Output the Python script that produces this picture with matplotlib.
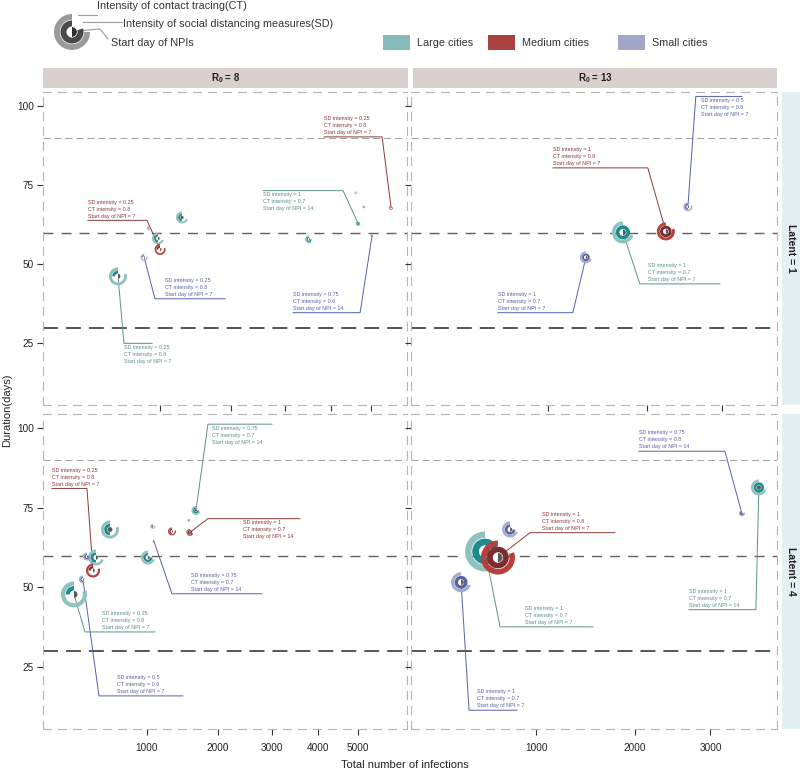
import numpy as np
import matplotlib.pyplot as plt
from matplotlib.patches import Wedge, Circle, Rectangle
from matplotlib.transforms import Affine2D, ScaledTranslation

plt.rcParams['font.family'] = ['Liberation Sans', 'DejaVu Sans']
plt.rcParams['mathtext.fontset'] = 'custom'
plt.rcParams['mathtext.rm'] = 'Liberation Sans'
plt.rcParams['mathtext.bf'] = 'Liberation Sans:bold'

# ---------------- data (one block per facet) ----------------
# R0 = 8, latent = 1
tl_city = ['Large', 'Large', 'Medium', 'Small', 'Large', 'Large', 'Large', 'Small', 'Small', 'Medium', 'Small', 'Small']
tl_inf = [568, 976, 1000, 822, 1273, 3505, 4662, 4611, 4815, 5534, 5022, 875]
tl_dur = [46.2, 58.2, 54.7, 52.2, 64.8, 57.9, 62.9, 72.6, 68.2, 67.9, 59.1, 61.4]
tl_sd = [0.25, 0.5, 0.25, 0.25, 0.5, 0.75, 1, 0.5, 0.75, 0.25, 0.75, 0.5]
tl_ct = [0.8, 0.7, 0.8, 0.8, 0.7, 0.6, 0.7, 0.8, 0.6, 0.8, 0.6, 0.7]
tl_start = [7, 7, 7, 7, 14, 7, 14, 7, 14, 7, 14, 7]
tl_weight = [9, 6, 5.5, 3.5, 6, 4, 2.5, 1.5, 1.5, 2, 1.5, 2]

# R0 = 13, latent = 1
tr_city = ['Large', 'Medium', 'Small', 'Small']
tr_inf = [1728, 2234, 2519, 1344]
tr_dur = [60.1, 60.4, 68.2, 52.2]
tr_sd = [1, 1, 0.5, 1]
tr_ct = [0.7, 0.8, 0.8, 0.7]
tr_start = [7, 7, 7, 7]
tr_weight = [11, 9, 4.5, 6]

# R0 = 8, latent = 4
bl_city = ['Large', 'Large', 'Large', 'Large', 'Large', 'Medium', 'Medium', 'Medium',
           'Small', 'Small', 'Small', 'Small', 'Small']
bl_inf = [328, 492, 614, 1012, 1657, 468, 1315, 1568, 391, 421, 1072, 1084, 1553]
bl_dur = [47.8, 59.4, 68.2, 59.4, 74.2, 55.3, 67.6, 67.3, 52.5, 59.7, 69.2, 64.5, 71.1]
bl_sd = [0.25, 0.5, 0.5, 0.75, 0.75, 0.25, 0.5, 1, 0.5, 0.75, 0.5, 0.75, 1]
bl_ct = [0.8, 0.7, 0.8, 0.7, 0.7, 0.8, 0.8, 0.7, 0.6, 0.7, 0.8, 0.7, 0.6]
bl_start = [7, 7, 14, 7, 14, 7, 7, 14, 7, 7, 14, 14, 14]
bl_weight = [13, 8, 9, 7, 4.5, 7, 4, 3.5, 4, 4, 2.5, 1.5, 1.5]

# R0 = 13, latent = 4
br_city = ['Large', 'Large', 'Medium', 'Small', 'Small', 'Small']
br_inf = [618, 3745, 706, 470, 794, 3474]
br_dur = [61.3, 81.4, 59.4, 51.6, 68.2, 73.3]
br_sd = [1, 1, 1, 1, 0.75, 0.75]
br_ct = [0.7, 0.7, 0.8, 0.7, 0.7, 0.8]
br_start = [7, 14, 7, 7, 7, 14]
br_weight = [20, 8, 17, 10, 8, 3]

r0_labels = ['8', '13']
latent_labels = ['1', '4']

# label placement (point index, line y, elbow x, end x, text x, text above line)
tl_labels = [(0, 25.0, 622, 908, 622, False), (2, 63.9, 853, 334, 334, True),
             (3, 39.1, 941, 1905, 1059, True), (6, 73.3, 4290, 2569, 2569, False),
             (9, 90.3, 5288, 3842, 3842, True), (10, 34.7, 4713, 3163, 3163, True)]
tr_labels = [(0, 43.8, 1920, 2963, 2014, True), (1, 80.5, 2014, 1042, 1042, True),
             (2, 103.1, 2626, 3289, 2695, False), (3, 34.7, 1220, 624, 624, True)]
bl_labels = [(0, 36.0, 406, 1096, 543, True), (5, 81.1, 421, 197, 197, True),
             (8, 15.9, 517, 1467, 680, True), (11, 48.0, 1315, 2801, 1582, True),
             (7, 71.6, 1843, 3595, 2441, False), (4, 101.3, 1843, 3001, 1907, False)]
br_labels = [(3, 11.4, 517, 847, 566, True), (0, 37.6, 721, 1535, 910, True),
             (2, 67.2, 950, 1772, 1051, True), (5, 92.8, 3213, 2050, 2050, True),
             (1, 43.0, 3696, 2695, 2695, True)]

light = {'Large': '#8fc1be', 'Medium': '#b8403b', 'Small': '#a4abcc'}
dark = {'Large': '#1d8a8b', 'Medium': '#7e2d2e', 'Small': '#56639f'}
txtcol = {'Large': '#5b918c', 'Medium': '#8a3b36', 'Small': '#5563a6'}
swatch = {'Large': '#88bab9', 'Medium': '#a8423f', 'Small': '#a1a8c7'}

W, H = 800, 773
fig = plt.figure(figsize=(W / 100, H / 100), dpi=100)


def glyph(ax, x, y, r, ct, sd, start, c_light, c_dark, c_pie='#5a5a5a'):
    tr = Affine2D().scale(fig.dpi / 100) + ScaledTranslation(x, y, ax.transData)
    kw = dict(transform=tr, ec='none', zorder=3, clip_on=False)
    ax.add_patch(Wedge((0, 0), r, 90, 90 + 360 * ct, width=0.32 * r, fc=c_light, **kw))
    ax.add_patch(Wedge((0, 0), 0.64 * r, 90, 90 + 360 * sd, width=0.34 * r, fc=c_dark, **kw))
    ax.add_patch(Circle((0, 0), 0.3 * r, fc='white', **kw))
    ax.add_patch(Wedge((0, 0), 0.27 * r, 90 - 360 * start / 14, 90, fc=c_pie, **kw))


def fbox(x0, y0, x1, y1):
    return [x0 / W, 1 - y1 / H, (x1 - x0) / W, (y1 - y0) / H]


col_px = [(43, 407), (411, 777)]
row_px = [(92, 405), (414, 729)]

facets = [
    (0, 0, tl_city, tl_inf, tl_dur, tl_sd, tl_ct, tl_start, tl_weight, tl_labels, (99, 5980)),
    (0, 1, tr_city, tr_inf, tr_dur, tr_sd, tr_ct, tr_start, tr_weight, tr_labels, (181, 3846)),
    (1, 0, bl_city, bl_inf, bl_dur, bl_sd, bl_ct, bl_start, bl_weight, bl_labels, (153, 6370)),
    (1, 1, br_city, br_inf, br_dur, br_sd, br_ct, br_start, br_weight, br_labels, (226, 4045)),
]

for row, col, city, inf, dur, sd, ct, start, wt, labels, xlim in facets:
    (x0, x1), (y0, y1) = col_px[col], row_px[row]
    ax = fig.add_axes(fbox(x0, y0, x1, y1))
    ax.set_xscale('function', functions=(lambda v: np.sqrt(np.clip(v, 0, None)), lambda v: v ** 2))
    ax.set_xlim(*xlim)
    ax.set_ylim(5.5, 104.5)
    ax.set_autoscale_on(False)

    ax.axhline(90, color='#a0a0a0', lw=0.7, dashes=(7.2, 4.1), zorder=1)
    ax.axhline(60, color='#606060', lw=1.0, dashes=(7.2, 5.8), zorder=1)
    ax.axhline(30, color='#555555', lw=1.4, dashes=(7.7, 4.1), zorder=1)

    for idx, ly, ex, endx, tx, above in labels:
        c = txtcol[city[idx]]
        ax.plot([inf[idx], ex, endx], [dur[idx], ly, ly], color=c, lw=0.7, zorder=2,
                clip_on=False)
        txt = f"SD intenstiy = {sd[idx]:g}\nCT intensity = {ct[idx]:g}\nStart day of NPI = {start[idx]}"
        ax.annotate(txt, (tx, ly), xytext=(0, 1.3 if above else -1.3), textcoords='offset points',
                    va='bottom' if above else 'top', ha='left', fontsize=3.9, color=c,
                    linespacing=1.5, zorder=4, annotation_clip=False)

    for i in range(len(inf)):
        glyph(ax, inf[i], dur[i], wt[i], ct[i], sd[i], start[i], light[city[i]], dark[city[i]])

    ax.set_xticks([1000, 2000, 3000, 4000, 5000] if col == 0 else [1000, 2000, 3000])
    ax.xaxis.set_minor_locator(plt.NullLocator())
    ax.set_yticks([25, 50, 75, 100])
    ax.tick_params(direction='out', length=4.5, width=0.8, color='#333333', labelsize=7.2,
                   labelcolor='#222222')
    ax.tick_params(axis='x', pad=5.5)
    ax.tick_params(axis='y', pad=2)
    if row == 0:
        ax.set_xticklabels([])
    else:
        ax.set_xticklabels([f'{t}' for t in ax.get_xticks().astype(int)])
    if col == 1:
        ax.set_yticklabels([])
    for sp in ax.spines.values():
        sp.set_linestyle((0, (7.2, 6.3)))
        sp.set_color('#b5b5b5')
        sp.set_linewidth(0.8)

# facet strips
for col, lab in enumerate(r0_labels):
    x0, x1 = col_px[col]
    x0 = x0 if col == 0 else x0 + 2
    x1 = x1 + 1 if col == 0 else x1
    b = fbox(x0, 68, x1, 88)
    fig.add_artist(Rectangle((b[0], b[1]), b[2], b[3], transform=fig.transFigure,
                             fc='#d8d0ce', ec='none'))
    fig.text(b[0] + b[2] / 2, b[1] + b[3] / 2, r'$\mathbf{R_0}$ = ' + lab, ha='center',
             va='center', fontsize=7, fontweight='bold', color='#222222')
for row, lab in enumerate(latent_labels):
    y0, y1 = row_px[row]
    b = fbox(782, y0, 800, y1)
    fig.add_artist(Rectangle((b[0], b[1]), b[2], b[3], transform=fig.transFigure,
                             fc='#e2eff3', ec='none'))
    fig.text(b[0] + b[2] / 2, b[1] + b[3] / 2, 'Latent = ' + lab, ha='center', va='center',
             rotation=-90, fontsize=7.5, fontweight='bold', color='#222222')

fig.text(405 / W, 1 - 765 / H, 'Total number of infections', ha='center', va='center',
         fontsize=8, color='#222222')
fig.text(7 / W, 1 - 410 / H, 'Duration(days)', ha='center', va='center', rotation=90,
         fontsize=8, color='#222222')

# legends drawn on a pixel overlay
ov = fig.add_axes([0, 0, 1, 1])
ov.set_xlim(0, W)
ov.set_ylim(H, 0)
ov.axis('off')

for i, (name, lab) in enumerate([('Large', 'Large cities'), ('Medium', 'Medium cities'),
                                  ('Small', 'Small cities')]):
    sx = [383, 488, 618][i]
    ov.add_patch(Rectangle((sx, 35), 27, 15, fc=swatch[name], ec='none'))
    ov.text(sx + 34, 43, lab, ha='left', va='center', fontsize=7.8, color='#333333')

glyph(ov, 72, 32, 18, 0.75, 0.8, 7, '#9a9a9a', '#484848', '#2e2e2e')
ov.plot([78, 97], [15, 15], color='#9a9a9a', lw=0.8)
ov.plot([83, 122], [22, 22], color='#9a9a9a', lw=0.8)
ov.plot([76, 100, 108], [31, 29, 39], color='#9a9a9a', lw=0.8)
ov.text(97, 6, 'Intensity of contact tracing(CT)', ha='left', va='center', fontsize=7.8,
        color='#333333')
ov.text(123, 24, 'Intensity of social distancing measures(SD)', ha='left', va='center',
        fontsize=7.8, color='#333333')
ov.text(111, 43, 'Start day of NPIs', ha='left', va='center', fontsize=7.8, color='#333333')

fig.savefig('out.png', dpi=100)
